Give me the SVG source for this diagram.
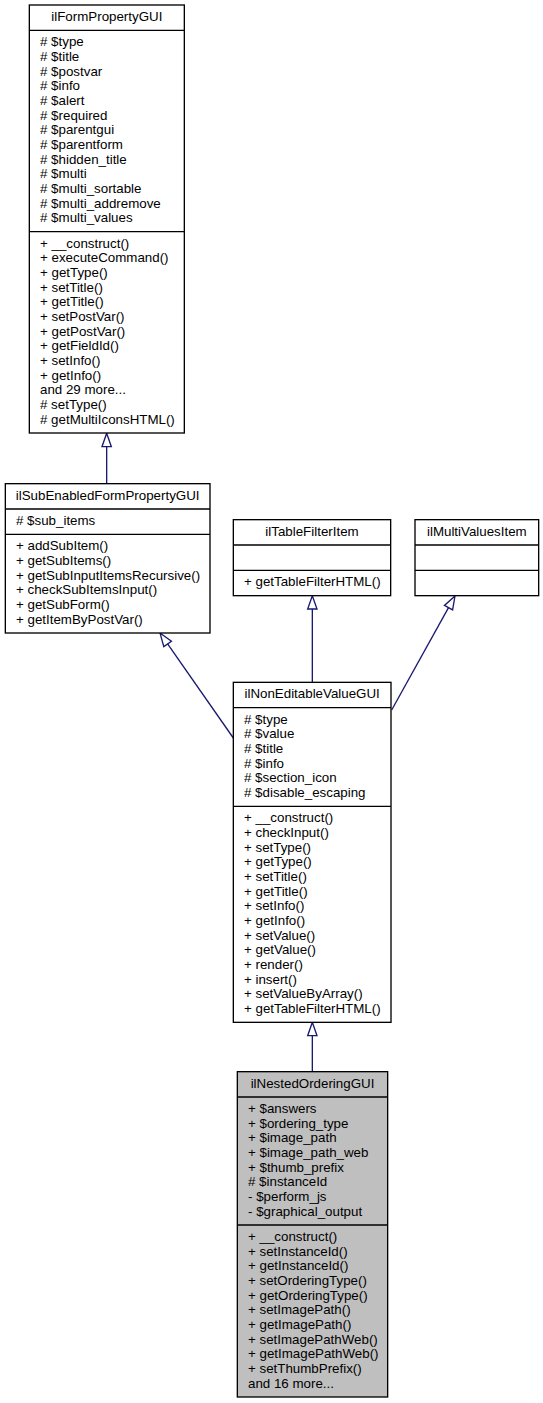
<svg xmlns="http://www.w3.org/2000/svg" width="543" height="1403" viewBox="0 0 543 1403">
<style>
text{font-family:"Liberation Sans",Arial,Helvetica,sans-serif;font-size:13.33px;fill:#000}
.t{text-anchor:middle}
.box{fill:#fff;stroke:#000;stroke-width:1.33}
.sel{fill:#bfbfbf;stroke:#000;stroke-width:1.33}
.sep{stroke:#000;stroke-width:1.33;fill:none}
.edge{stroke:#191970;stroke-width:1.33;fill:none}
.head{fill:#fff;stroke:#191970;stroke-width:1.33}
</style>
<rect width="543" height="1403" fill="#fff"/>
<g id="connectors">
<line class="edge" x1="106.67" y1="483.67" x2="106.67" y2="446.5"/>
<polygon class="head" points="106.67,433.33 102,446.67 111.33,446.67"/>
<line class="edge" x1="233.33" y1="738" x2="167.6" y2="643.9"/>
<polygon class="head" points="160,633 171.45,641.27 163.79,646.61"/>
<line class="edge" x1="312.33" y1="682.33" x2="312.33" y2="609"/>
<polygon class="head" points="312.33,595.67 307.67,609 317,609"/>
<line class="edge" x1="391.67" y1="710" x2="448.52" y2="607.65"/>
<polygon class="head" points="455,596 452.6,609.92 444.44,605.38"/>
<line class="edge" x1="312.33" y1="1071.67" x2="312.33" y2="1035.67"/>
<polygon class="head" points="312.33,1022.33 307.67,1035.67 317,1035.67"/>
</g>
<g id="ilFormPropertyGUI">
<rect class="box" x="29.33" y="5" width="155" height="428"/>
<line class="sep" x1="29.33" y1="30.33" x2="184.33" y2="30.33"/>
<line class="sep" x1="29.33" y1="231.67" x2="184.33" y2="231.67"/>
<text class="t" x="106.83" y="21">ilFormPropertyGUI</text>
<text x="40" y="46.33"># $type</text>
<text x="40" y="61"># $title</text>
<text x="40" y="75.67"># $postvar</text>
<text x="40" y="90.33"># $info</text>
<text x="40" y="105"># $alert</text>
<text x="40" y="119.67"># $required</text>
<text x="40" y="134.33"># $parentgui</text>
<text x="40" y="149"># $parentform</text>
<text x="40" y="163.67"># $hidden_title</text>
<text x="40" y="178.33"># $multi</text>
<text x="40" y="193"># $multi_sortable</text>
<text x="40" y="207.67"># $multi_addremove</text>
<text x="40" y="222.33"># $multi_values</text>
<text x="40" y="247.67">+ __construct()</text>
<text x="40" y="262.33">+ executeCommand()</text>
<text x="40" y="277">+ getType()</text>
<text x="40" y="291.67">+ setTitle()</text>
<text x="40" y="306.33">+ getTitle()</text>
<text x="40" y="321">+ setPostVar()</text>
<text x="40" y="335.67">+ getPostVar()</text>
<text x="40" y="350.33">+ getFieldId()</text>
<text x="40" y="365">+ setInfo()</text>
<text x="40" y="379.67">+ getInfo()</text>
<text x="40" y="394.33">and 29 more...</text>
<text x="40" y="409"># setType()</text>
<text x="40" y="423.67"># getMultiIconsHTML()</text>
</g>
<g id="ilSubEnabledFormPropertyGUI">
<rect class="box" x="5.33" y="483.67" width="204.67" height="149.33"/>
<line class="sep" x1="5.33" y1="509" x2="210" y2="509"/>
<line class="sep" x1="5.33" y1="534.33" x2="210" y2="534.33"/>
<text class="t" x="107.67" y="499.67">ilSubEnabledFormPropertyGUI</text>
<text x="16" y="525"># $sub_items</text>
<text x="16" y="550.33">+ addSubItem()</text>
<text x="16" y="565">+ getSubItems()</text>
<text x="16" y="579.67">+ getSubInputItemsRecursive()</text>
<text x="16" y="594.33">+ checkSubItemsInput()</text>
<text x="16" y="609">+ getSubForm()</text>
<text x="16" y="623.67">+ getItemByPostVar()</text>
</g>
<g id="ilTableFilterItem">
<rect class="box" x="233.33" y="519.67" width="157.33" height="76"/>
<line class="sep" x1="233.33" y1="545" x2="390.67" y2="545"/>
<line class="sep" x1="233.33" y1="570.33" x2="390.67" y2="570.33"/>
<text class="t" x="312" y="535.67">ilTableFilterItem</text>
<text x="244" y="586.33">+ getTableFilterHTML()</text>
</g>
<g id="ilMultiValuesItem">
<rect class="box" x="415" y="519.67" width="123.67" height="76"/>
<line class="sep" x1="415" y1="545" x2="538.67" y2="545"/>
<line class="sep" x1="415" y1="570.33" x2="538.67" y2="570.33"/>
<text class="t" x="476.83" y="535.67">ilMultiValuesItem</text>
</g>
<g id="ilNonEditableValueGUI">
<rect class="box" x="233.33" y="682.33" width="157.67" height="340"/>
<line class="sep" x1="233.33" y1="707.67" x2="391" y2="707.67"/>
<line class="sep" x1="233.33" y1="806.33" x2="391" y2="806.33"/>
<text class="t" x="312.17" y="698.33">ilNonEditableValueGUI</text>
<text x="244" y="723.67"># $type</text>
<text x="244" y="738.33"># $value</text>
<text x="244" y="753"># $title</text>
<text x="244" y="767.67"># $info</text>
<text x="244" y="782.33"># $section_icon</text>
<text x="244" y="797"># $disable_escaping</text>
<text x="244" y="822.33">+ __construct()</text>
<text x="244" y="837">+ checkInput()</text>
<text x="244" y="851.67">+ setType()</text>
<text x="244" y="866.33">+ getType()</text>
<text x="244" y="881">+ setTitle()</text>
<text x="244" y="895.67">+ getTitle()</text>
<text x="244" y="910.33">+ setInfo()</text>
<text x="244" y="925">+ getInfo()</text>
<text x="244" y="939.67">+ setValue()</text>
<text x="244" y="954.33">+ getValue()</text>
<text x="244" y="969">+ render()</text>
<text x="244" y="983.67">+ insert()</text>
<text x="244" y="998.33">+ setValueByArray()</text>
<text x="244" y="1013">+ getTableFilterHTML()</text>
</g>
<g id="ilNestedOrderingGUI">
<rect class="sel" x="237.33" y="1071.67" width="150.33" height="325.33"/>
<line class="sep" x1="237.33" y1="1097" x2="387.67" y2="1097"/>
<line class="sep" x1="237.33" y1="1225" x2="387.67" y2="1225"/>
<text class="t" x="312.5" y="1087.67">ilNestedOrderingGUI</text>
<text x="248" y="1113">+ $answers</text>
<text x="248" y="1127.67">+ $ordering_type</text>
<text x="248" y="1142.33">+ $image_path</text>
<text x="248" y="1157">+ $image_path_web</text>
<text x="248" y="1171.67">+ $thumb_prefix</text>
<text x="248" y="1186.33"># $instanceId</text>
<text x="248" y="1201">- $perform_js</text>
<text x="248" y="1215.67">- $graphical_output</text>
<text x="248" y="1241">+ __construct()</text>
<text x="248" y="1255.67">+ setInstanceId()</text>
<text x="248" y="1270.33">+ getInstanceId()</text>
<text x="248" y="1285">+ setOrderingType()</text>
<text x="248" y="1299.67">+ getOrderingType()</text>
<text x="248" y="1314.33">+ setImagePath()</text>
<text x="248" y="1329">+ getImagePath()</text>
<text x="248" y="1343.67">+ setImagePathWeb()</text>
<text x="248" y="1358.33">+ getImagePathWeb()</text>
<text x="248" y="1373">+ setThumbPrefix()</text>
<text x="248" y="1387.67">and 16 more...</text>
</g>
</svg>
